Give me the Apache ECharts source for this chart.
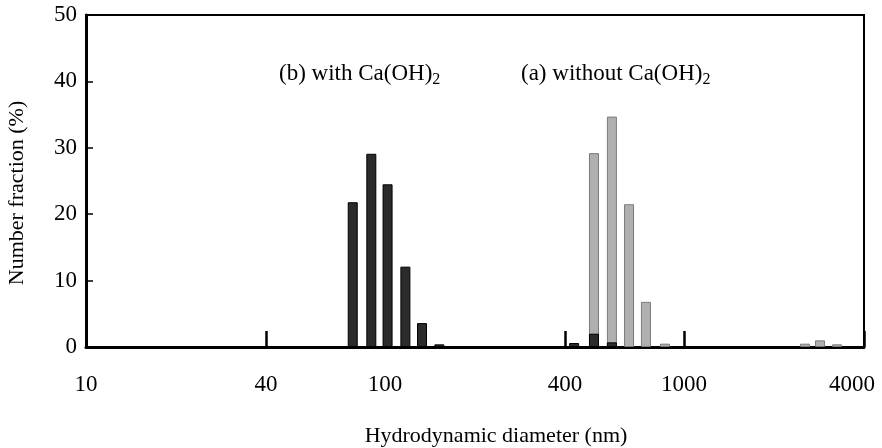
<!DOCTYPE html>
<html>
<head>
<meta charset="utf-8">
<script src="https://cdn.jsdelivr.net/npm/echarts@6/dist/echarts.min.js"></script>
<style>html,body{margin:0;padding:0;background:#fff}#c{width:882px;height:448px}</style>
</head>
<body>
<div id="c"></div>
<script>
// Data
const xTicks = [10, 40, 100, 400, 1000, 4000];
const yTicks = [0, 10, 20, 30, 40, 50];
// (b) with Ca(OH)2 — dark bars
const withX = [78, 90, 102, 117, 133, 152, 429, 500, 574];
const withY = [21.8, 29.1, 24.5, 12.1, 3.6, 0.4, 0.6, 2.0, 0.7];
// (a) without Ca(OH)2 — gray bars
const withoutX = [500, 574, 655, 746, 864, 2540, 2850, 3250];
const withoutY = [29.2, 34.7, 21.5, 6.8, 0.5, 0.5, 1.0, 0.4];

const FONT = 'Liberation Serif';
const chart = echarts.init(document.getElementById('c'), null, {renderer: 'canvas'});
const pair = (xs, ys) => xs.map((x, i) => [x, ys[i]]);

chart.setOption({
  animation: false,
  backgroundColor: '#fff',
  grid: {left: 86, right: 18, top: 15, bottom: 101, containLabel: false, outerBoundsMode: 'none',
    show: true, borderColor: '#000', borderWidth: 2, backgroundColor: 'transparent'},
  xAxis: {
    type: 'log', logBase: 10, min: 10, max: 4000,
    axisLine: {show: true, onZero: false, lineStyle: {color: '#000', width: 3}},
    axisTick: {show: true, inside: true, length: 16, customValues: xTicks, lineStyle: {color: '#000', width: 2.5}},
    splitLine: {show: false},
    axisLabel: {
      customValues: xTicks, margin: 26, color: '#000', fontFamily: FONT, fontSize: 23,
      formatter: v => (Math.abs(v - 4000) < 1 ? '{r|4000}' : String(Math.round(v))),
      rich: {r: {fontFamily: FONT, fontSize: 23, color: '#000', padding: [0, 24, 0, 0]}}
    },
    name: 'Hydrodynamic diameter (nm)', nameLocation: 'middle', nameGap: 78,
    nameTextStyle: {color: '#000', fontFamily: FONT, fontSize: 22, padding: [0, 0, 0, 42]}
  },
  yAxis: {
    type: 'value', min: 0, max: 50, interval: 10,
    axisLine: {show: true, lineStyle: {color: '#000', width: 3}},
    axisTick: {show: true, inside: true, length: 7, lineStyle: {color: '#000', width: 1.5}},
    splitLine: {show: false},
    axisLabel: {margin: 9, color: '#000', fontFamily: FONT, fontSize: 23},
    name: 'Number fraction (%)', nameLocation: 'middle', nameGap: 58, nameRotate: 90,
    nameTextStyle: {color: '#000', fontFamily: FONT, fontSize: 22, padding: [0, 24, 0, 0]}
  },
  series: [
    {
      name: '(a) without Ca(OH)2', type: 'bar', data: pair(withoutX, withoutY),
      barWidth: 10, barGap: '-100%',
      itemStyle: {color: '#b0b0b0', borderColor: '#7a7a7a', borderWidth: 1}
    },
    {
      name: '(b) with Ca(OH)2', type: 'bar', data: pair(withX, withY),
      barWidth: 10, barGap: '-100%',
      itemStyle: {color: '#2b2b2b', borderColor: '#000', borderWidth: 1}
    }
  ],
  graphic: [
    {type: 'text', left: 279, top: 62, style: {
      text: '{n|(b) with Ca(OH)}{s|2}',
      rich: {n: {fontFamily: FONT, fontSize: 23, fill: '#000'}, s: {fontFamily: FONT, fontSize: 16, fill: '#000', padding: [12, 0, 0, 0]}}
    }},
    {type: 'text', left: 521, top: 62, style: {
      text: '{n|(a) without Ca(OH)}{s|2}',
      rich: {n: {fontFamily: FONT, fontSize: 23, fill: '#000'}, s: {fontFamily: FONT, fontSize: 16, fill: '#000', padding: [12, 0, 0, 0]}}
    }}
  ]
});
</script>
</body>
</html>
